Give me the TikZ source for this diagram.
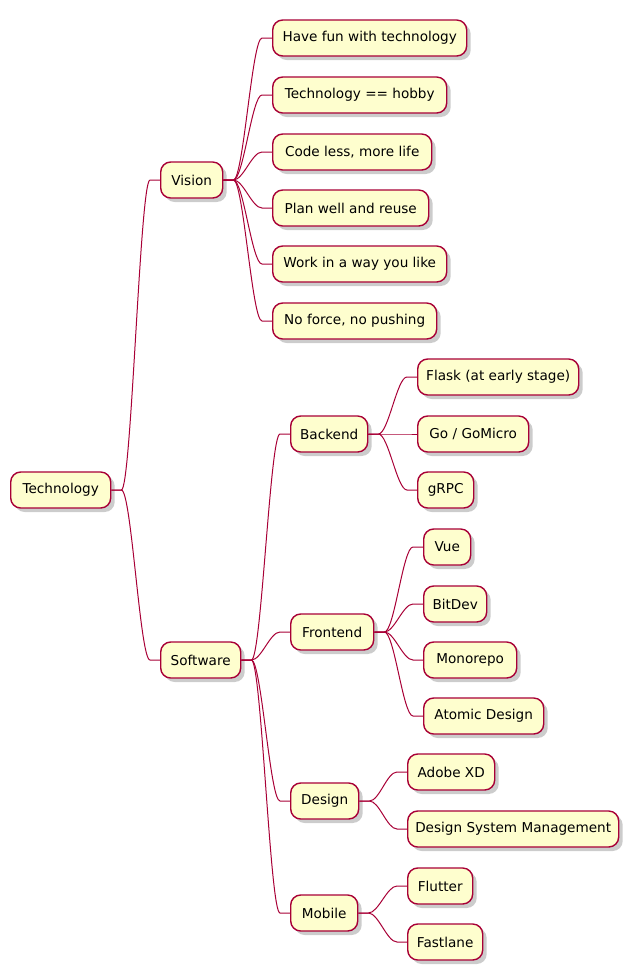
\documentclass[tikz,border=0pt]{standalone}
\usepackage{fontspec}
\setmainfont{DejaVu Sans}
\usetikzlibrary{shadows}
\definecolor{nodefill}{HTML}{FEFECE}
\definecolor{nodeline}{HTML}{A80036}
\newcommand\mmlink[2]{\draw[conn] (#1.east) -- ++(10,0) .. controls +(10,0) and ([xshift=-20pt]#2.west) .. ([xshift=-10pt]#2.west) -- (#2.west);}
\begin{document}
\begin{tikzpicture}[x=1pt,y=-1pt,
  box/.style={draw=nodeline, fill=nodefill, line width=1.4pt, rounded corners=10pt,
    minimum height=36pt, anchor=west, inner sep=0pt, font=\fontsize{13.6}{16}\selectfont,
    drop shadow={opacity=0.4, shadow xshift=4pt, shadow yshift=-4pt}},
  conn/.style={draw=nodeline, line width=1pt}]
\useasboundingbox (0,0) rectangle (629,970);
% root
\node[box, minimum width=100pt] (tech) at (10,490) {Technology};
% level 1
\node[box, minimum width=62pt] (vision) at (160,180) {Vision};
\node[box, minimum width=80pt] (software) at (160,660) {Software};
% vision leaves
\node[box, minimum width=194pt] (v1) at (272,38) {Have fun with technology};
\node[box, minimum width=174pt] (v2) at (272,95) {Technology == hobby};
\node[box, minimum width=159pt] (v3) at (272,152) {Code less, more life};
\node[box, minimum width=156pt] (v4) at (272,208) {Plan well and reuse};
\node[box, minimum width=174pt] (v5) at (272,264) {Work in a way you like};
\node[box, minimum width=164pt] (v6) at (272,321) {No force, no pushing};
% software children
\node[box, minimum width=77pt] (backend) at (290,434) {Backend};
\node[box, minimum width=83pt] (frontend) at (290,632) {Frontend};
\node[box, minimum width=68pt] (design) at (290,801) {Design};
\node[box, minimum width=67pt] (mobile) at (290,913) {Mobile};
% backend leaves
\node[box, minimum width=161pt] (b1) at (417,377) {Flask (at early stage)};
\node[box, minimum width=111pt] (b2) at (417,434) {Go / GoMicro};
\node[box, minimum width=56pt] (b3) at (417,490) {gRPC};
% frontend leaves
\node[box, minimum width=47pt] (f1) at (423,547) {Vue};
\node[box, minimum width=63pt] (f2) at (423,604) {BitDev};
\node[box, minimum width=93pt] (f3) at (423,660) {Monorepo};
\node[box, minimum width=120pt] (f4) at (423,716) {Atomic Design};
% design leaves
\node[box, minimum width=87pt] (d1) at (407,772) {Adobe XD};
\node[box, minimum width=211pt] (d2) at (407,829) {Design System Management};
% mobile leaves
\node[box, minimum width=65pt] (m1) at (407,886) {Flutter};
\node[box, minimum width=75pt] (m2) at (407,942) {Fastlane};
% connectors
\mmlink{tech}{vision}
\mmlink{tech}{software}
\foreach \c in {v1,v2,v3,v4,v5,v6}{\mmlink{vision}{\c}}
\foreach \c in {backend,frontend,design,mobile}{\mmlink{software}{\c}}
\foreach \c in {b1,b2,b3}{\mmlink{backend}{\c}}
\foreach \c in {f1,f2,f3,f4}{\mmlink{frontend}{\c}}
\foreach \c in {d1,d2}{\mmlink{design}{\c}}
\foreach \c in {m1,m2}{\mmlink{mobile}{\c}}
\end{tikzpicture}
\end{document}
